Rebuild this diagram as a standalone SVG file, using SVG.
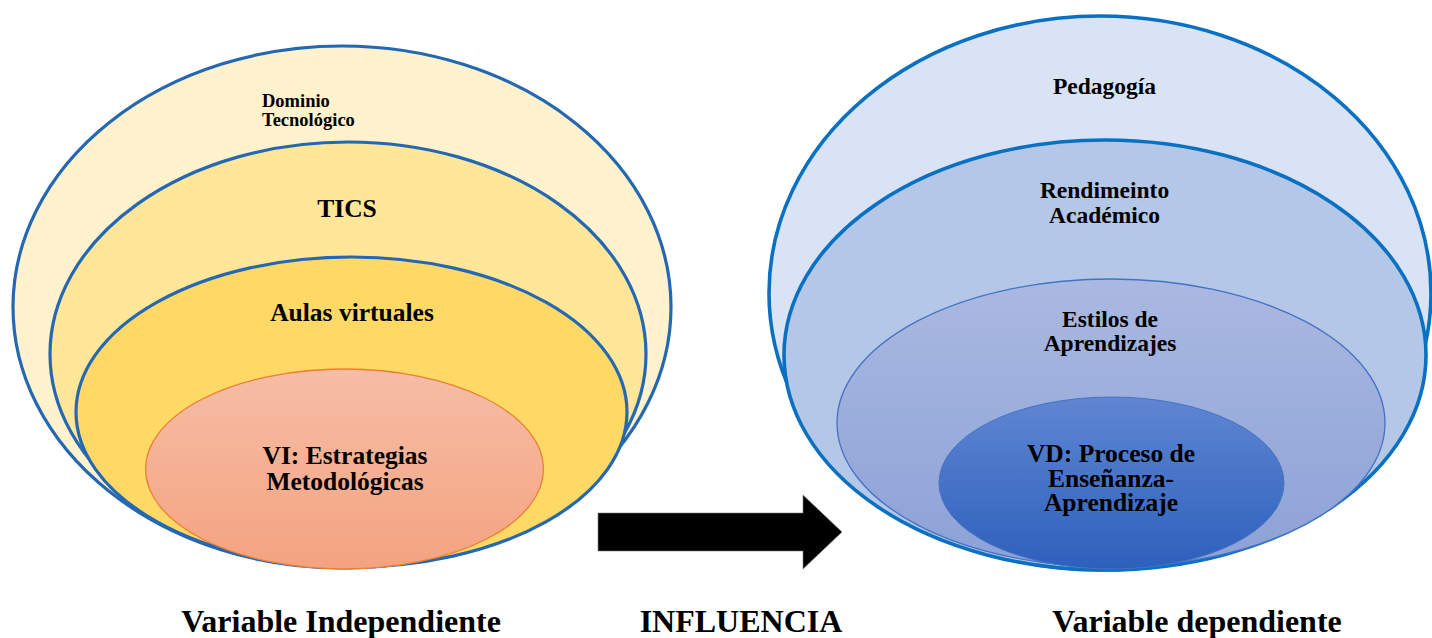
<svg xmlns="http://www.w3.org/2000/svg" width="1432" height="638" viewBox="0 0 1432 638">
<defs>
<linearGradient id="gVI" x1="0" y1="0" x2="0" y2="1"><stop offset="0" stop-color="#F6BDA6"/><stop offset="1" stop-color="#F4A380"/></linearGradient>
<linearGradient id="gEst" x1="0" y1="0" x2="0" y2="1"><stop offset="0" stop-color="#AAB9E1"/><stop offset="1" stop-color="#8CA1D6"/></linearGradient>
<linearGradient id="gVD" x1="0" y1="0" x2="0" y2="1"><stop offset="0" stop-color="#5F86D2"/><stop offset="1" stop-color="#2D60BC"/></linearGradient>
<style>
text{font-family:"Liberation Serif","Times New Roman",serif;font-weight:bold;fill:#000;}
.big{font-size:25.5px;text-anchor:middle;}
.mid{font-size:23.5px;text-anchor:middle;}
.sm{font-size:18.5px;}
.lab{font-size:32px;text-anchor:middle;}
.bl{stroke:#2568B2;stroke-width:3.2;}
.br{stroke:#0A70C2;stroke-width:3.6;}
</style>
</defs>
<g id="left-dominio">
<ellipse cx="342" cy="307" rx="329" ry="261" fill="#FFF2CC" class="bl"/>
<text class="sm" x="262" y="107">Dominio</text>
<text class="sm" x="262" y="126">Tecnológico</text>
</g>
<g id="left-tics">
<ellipse cx="348" cy="354" rx="298" ry="212" fill="#FFE699" class="bl"/>
<text class="big" x="347" y="217">TICS</text>
</g>
<g id="left-aulas">
<ellipse cx="351.5" cy="412" rx="275.5" ry="155" fill="#FFD966" class="bl"/>
<text class="big" x="352" y="321">Aulas virtuales</text>
</g>
<g id="left-vi">
<ellipse cx="344.5" cy="469" rx="199" ry="100" fill="url(#gVI)" stroke="#ED7D31" stroke-width="1.3"/>
<text class="big" x="345" y="464">VI: Estrategias</text>
<text class="big" x="345" y="490">Metodológicas</text>
</g>
<g id="right-pedagogia">
<ellipse cx="1100" cy="293" rx="331" ry="277" fill="#DAE3F3" class="br"/>
<text class="mid" x="1104.5" y="94">Pedagogía</text>
</g>
<g id="right-rendimiento">
<ellipse cx="1105" cy="355" rx="321" ry="215" fill="#B4C7E7" class="br"/>
<text class="mid" x="1104.5" y="198">Rendimeinto</text>
<text class="mid" x="1104.5" y="223">Académico</text>
</g>
<g id="right-estilos">
<ellipse cx="1111" cy="423" rx="274" ry="144" fill="url(#gEst)" stroke="#4472C4" stroke-width="1.3"/>
<text class="mid" x="1110" y="327">Estilos de</text>
<text class="mid" x="1110" y="351">Aprendizajes</text>
</g>
<g id="right-vd">
<ellipse cx="1111.5" cy="483" rx="172.5" ry="86" fill="url(#gVD)" stroke="#4472C4" stroke-width="1"/>
<text class="big" x="1111" y="462">VD: Proceso de</text>
<text class="big" x="1111" y="487">Enseñanza-</text>
<text class="big" x="1111" y="511">Aprendizaje</text>
</g>
<g id="connectors">
<polygon points="598,513 803,513 803,495 842,532 803,569 803,551 598,551" fill="#000" stroke="#7F7F7F" stroke-width="0.6"/>
</g>
<g id="labels">
<text class="lab" x="341" y="632">Variable Independiente</text>
<text class="lab" x="741" y="632">INFLUENCIA</text>
<text class="lab" x="1197" y="632">Variable dependiente</text>
</g>
</svg>
